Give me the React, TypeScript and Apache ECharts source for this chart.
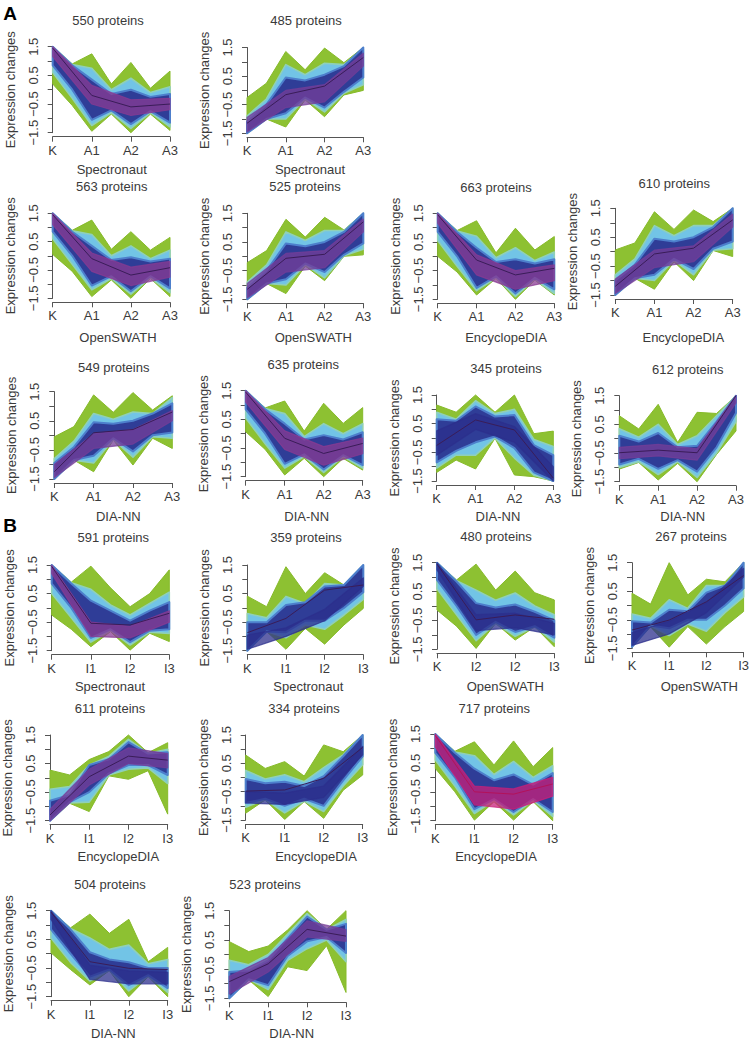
import React, { useEffect, useRef } from "react";
import * as echarts from "echarts";

// ---------- tick labels / texts ----------
const ticksA = ["K", "A1", "A2", "A3"];
const ticksI = ["K", "I1", "I2", "I3"];
const ticksI2 = ["K", "I2", "I2", "I3"];
const bandX = [0, 0.5, 1, 1.5, 2, 2.5, 3];
const pointX = [0, 1, 2, 3];

const counts = [550, 485, 563, 525, 663, 610, 549, 635, 345, 612, 591, 359, 480, 267, 611, 334, 717, 504, 523];
const software = [
  "Spectronaut", "Spectronaut", "OpenSWATH", "OpenSWATH", "EncyclopeDIA", "EncyclopeDIA",
  "DIA-NN", "DIA-NN", "DIA-NN", "DIA-NN",
  "Spectronaut", "Spectronaut", "OpenSWATH", "OpenSWATH",
  "EncyclopeDIA", "EncyclopeDIA", "EncyclopeDIA", "DIA-NN", "DIA-NN",
];
const tickSets = [
  ticksA, ticksA, ticksA, ticksA, ticksA, ticksA, ticksA, ticksA, ticksA, ticksA,
  ticksI, ticksI, ticksI2, ticksI, ticksI, ticksI, ticksI, ticksI, ticksI,
];

// ---------- envelope data (hi row, lo row) ----------
// A / Spectronaut
const p550Green = [[1.5, 0.9, 1.25, 0.2, 0.95, 0.05, 0.65], [0.2, -0.55, -1.45, -0.85, -1.5, -0.85, -1.42]];
const p550Cyan = [[1.5, 0.88, 0.75, 0.0, 0.4, -0.1, 0.1], [0.6, -0.3, -1.25, -0.8, -1.35, -0.8, -1.3]];
const p550Blue = [[1.5, 0.85, 0.35, -0.15, 0.0, -0.25, -0.15], [0.85, 0.0, -1.05, -0.72, -1.2, -0.75, -1.15]];
const p550Core = [[1.5, 0.15, -0.35, -0.3], [1.15, -0.5, -0.9, -0.7]];
const p550Mean = [1.45, -0.2, -0.6, -0.5];

const p485Green = [[-0.25, 0.25, 1.36, 0.72, 1.48, 0.97, 1.5], [-1.5, -1.0, -1.28, -0.33, -0.92, -0.16, 0.0]];
const p485Cyan = [[-0.9, -0.3, 0.9, 0.55, 0.95, 0.9, 1.45], [-1.5, -1.0, -1.0, -0.3, -0.75, -0.1, 0.2]];
const p485Blue = [[-1.1, -0.5, 0.45, 0.35, 0.55, 0.85, 1.5], [-1.5, -1.0, -0.8, -0.25, -0.6, -0.05, 0.45]];
const p485Core = [[-0.95, 0.0, 0.2, 1.3], [-1.45, -0.6, -0.4, 0.85]];
const p485Mean = [-1.15, -0.15, 0.15, 1.15];

// A / OpenSWATH
const p563Green = [[1.5, 0.9, 1.26, 0.23, 0.85, 0.2, 0.65], [0.05, -0.55, -1.44, -0.85, -1.5, -0.8, -1.44]];
const p563Cyan = [[1.5, 0.88, 0.75, 0.0, 0.35, -0.1, 0.2], [0.6, -0.3, -1.2, -0.8, -1.35, -0.78, -1.3]];
const p563Blue = [[1.5, 0.85, 0.35, -0.15, -0.05, -0.2, -0.1], [0.85, 0.0, -1.05, -0.72, -1.25, -0.72, -1.15]];
const p563Core = [[1.5, 0.1, -0.4, -0.2], [1.1, -0.55, -1.05, -0.75]];
const p563Mean = [1.45, -0.1, -0.68, -0.42];

const p525Green = [[-0.22, 0.2, 1.29, 0.67, 1.36, 0.92, 1.5], [-1.5, -0.95, -1.3, -0.34, -0.85, 0.0, 0.05]];
const p525Cyan = [[-0.9, -0.3, 0.85, 0.55, 0.9, 0.9, 1.5], [-1.5, -0.95, -1.0, -0.3, -0.75, 0.02, 0.25]];
const p525Blue = [[-1.1, -0.5, 0.45, 0.35, 0.5, 0.85, 1.5], [-1.5, -0.95, -0.8, -0.25, -0.55, 0.05, 0.45]];
const p525Core = [[-0.95, 0.1, 0.2, 1.3], [-1.45, -0.55, -0.4, 0.85]];
const p525Mean = [-1.15, -0.07, 0.07, 1.2];

// A / EncyclopeDIA
const p663Green = [[1.5, 0.9, 1.24, 0.12, 0.98, 0.22, 0.69], [0.0, -0.55, -1.35, -0.77, -1.5, -0.83, -1.35]];
const p663Cyan = [[1.5, 0.88, 0.7, -0.05, 0.3, -0.15, 0.15], [0.55, -0.35, -1.2, -0.75, -1.4, -0.8, -1.3]];
const p663Blue = [[1.5, 0.85, 0.3, -0.2, -0.1, -0.25, -0.1], [0.85, 0.0, -1.1, -0.7, -1.3, -0.75, -1.15]];
const p663Core = [[1.5, 0.05, -0.5, -0.3], [1.15, -0.65, -1.15, -0.85]];
const p663Mean = [1.45, -0.13, -0.65, -0.42];

const p610Green = [[0.06, 0.3, 1.38, 0.77, 1.44, 1.04, 1.5], [-1.5, -0.92, -1.3, -0.35, -1.0, 0.04, -0.17]];
const p610Cyan = [[-0.8, -0.25, 0.9, 0.55, 0.9, 0.9, 1.5], [-1.5, -0.92, -1.0, -0.3, -0.8, 0.05, 0.1]];
const p610Blue = [[-1.0, -0.45, 0.45, 0.35, 0.5, 0.85, 1.5], [-1.5, -0.92, -0.8, -0.25, -0.6, 0.1, 0.35]];
const p610Core = [[-0.95, 0.05, 0.2, 1.3], [-1.45, -0.55, -0.35, 0.85]];
const p610Mean = [-1.2, -0.08, 0.12, 1.1];

// A / DIA-NN
const p549Green = [[-0.05, 0.3, 1.39, 0.79, 1.47, 0.87, 1.36], [-1.5, -0.85, -1.25, -0.16, -1.02, -0.1, -0.45]];
const p549Cyan = [[-0.8, -0.2, 0.75, 0.55, 0.8, 0.75, 1.3], [-1.5, -0.85, -0.95, -0.15, -0.75, -0.05, -0.1]];
const p549Blue = [[-0.95, -0.4, 0.45, 0.4, 0.5, 0.75, 1.1], [-1.5, -0.85, -0.7, -0.1, -0.55, 0.0, 0.1]];
const p549Core = [[-1.0, 0.05, 0.2, 0.85], [-1.45, -0.45, -0.3, 0.5]];
const p549Mean = [-1.25, 0.09, 0.2, 0.8];

const p635Green = [[1.5, 0.9, 1.14, 0.09, 1.06, 0.36, 0.91], [0.07, -0.55, -1.44, -0.86, -1.5, -0.86, -1.27]];
const p635Cyan = [[1.5, 0.88, 0.7, -0.1, 0.35, 0.0, 0.35], [0.55, -0.35, -1.2, -0.8, -1.35, -0.8, -1.2]];
const p635Blue = [[1.5, 0.85, 0.35, -0.2, -0.05, -0.2, 0.05], [0.85, 0.0, -1.05, -0.72, -1.25, -0.75, -1.1]];
const p635Core = [[1.5, 0.1, -0.45, -0.15], [1.1, -0.55, -1.1, -0.7]];
const p635Mean = [1.45, -0.16, -0.69, -0.34];

const p345Green = [[1.15, 0.9, 1.5, 0.9, 1.5, 0.15, 0.24], [-1.2, -0.77, -1.08, -0.01, -1.29, -1.35, -1.5]];
const p345Cyan = [[0.9, 0.65, 1.3, 0.85, 1.0, -0.05, -0.3], [-1.05, -0.6, -0.6, 0.0, -0.7, -1.3, -1.5]];
const p345Blue = [[0.65, 0.6, 1.1, 0.75, 0.8, -0.25, -0.6], [-0.85, -0.45, -0.15, 0.05, -0.35, -1.2, -1.5]];
const p345Core = [[0.25, 0.85, 0.4, -1.0], [-0.6, 0.3, -0.15, -1.5]];
const p345Mean = [-0.26, 0.63, 0.28, -1.4];

const p612Green = [[0.8, 0.34, 1.2, -0.13, 0.92, 0.88, 1.5], [-1.06, -0.83, -1.44, -0.86, -1.5, -0.55, 0.27]];
const p612Cyan = [[0.35, 0.05, 0.5, -0.2, 0.1, 0.8, 1.5], [-1.0, -0.8, -1.25, -0.8, -1.35, -0.5, 0.6]];
const p612Blue = [[0.1, -0.1, 0.2, -0.3, -0.25, 0.6, 1.5], [-0.9, -0.7, -1.05, -0.75, -1.15, -0.3, 0.9]];
const p612Core = [[-0.3, -0.2, -0.35, 1.5], [-0.7, -0.6, -0.75, 1.25]];
const p612Mean = [-0.49, -0.4, -0.49, 1.5];

// B / Spectronaut
const p591Green = [[1.5, 0.9, 1.46, 0.7, 0.04, 0.5, 1.33], [-0.25, -0.75, -1.36, -0.83, -1.48, -0.89, -1.18]];
const p591Cyan = [[1.5, 0.88, 0.65, 0.1, -0.25, 0.15, 0.55], [0.5, -0.35, -1.2, -0.8, -1.3, -0.85, -0.9]];
const p591Blue = [[1.5, 0.85, 0.25, -0.1, -0.45, -0.1, 0.2], [0.85, 0.0, -1.05, -0.75, -1.2, -0.8, -0.75]];
const p591Core = [[1.5, -0.5, -0.65, -0.1], [1.2, -1.0, -1.05, -0.5]];
const p591Mean = [1.45, -0.54, -0.6, -0.19];

const p359Green = [[0.41, 0.04, 1.44, 0.5, 1.23, 0.8, 1.5], [-1.5, -0.83, -1.45, -0.72, -1.27, -0.6, -0.02]];
const p359Cyan = [[-0.2, -0.35, 0.4, 0.15, 0.85, 0.8, 1.5], [-1.5, -0.83, -1.05, -0.6, -0.75, -0.25, 0.3]];
const p359Blue = [[-0.5, -0.5, 0.1, 0.2, 0.75, 0.8, 1.5], [-1.5, -0.83, -0.85, -0.45, -0.45, 0.0, 0.55]];
const p359Core = [[-0.95, -0.7, -0.05, 1.05], [-1.45, -1.0, -0.45, 0.75]];
const p359Mean = [-0.87, -0.37, 0.62, 0.8];

// B / OpenSWATH
const p480Green = [[1.5, 0.9, 1.45, 0.55, 1.21, 0.46, 0.21], [-0.14, -0.7, -1.47, -0.6, -1.18, -0.72, -1.41]];
const p480Cyan = [[1.5, 0.88, 0.55, 0.2, 0.45, 0.0, -0.3], [0.6, -0.3, -1.2, -0.6, -1.05, -0.72, -1.25]];
const p480Blue = [[1.5, 0.85, 0.1, -0.05, 0.05, -0.2, -0.5], [0.9, 0.0, -1.0, -0.55, -0.9, -0.7, -1.1]];
const p480Core = [[1.5, -0.3, -0.25, -0.6], [1.25, -0.85, -0.75, -1.0]];
const p480Mean = [1.45, -0.48, -0.31, -0.46];

const p267Green = [[0.43, 0.05, 1.5, 0.37, 0.92, 0.83, 1.5], [-1.44, -0.75, -1.46, -0.74, -1.35, -0.74, -0.21]];
const p267Cyan = [[-0.3, -0.45, 0.2, -0.1, 0.7, 0.7, 1.5], [-1.45, -0.72, -1.05, -0.65, -0.9, -0.25, 0.3]];
const p267Blue = [[-0.55, -0.6, -0.15, -0.2, 0.45, 0.7, 1.5], [-1.45, -0.7, -0.8, -0.5, -0.5, 0.0, 0.6]];
const p267Core = [[-0.95, -0.55, 0.1, 1.3], [-1.4, -1.0, -0.25, 1.0]];
const p267Mean = [-0.86, -0.51, 0.13, 1.05];

// B / EncyclopeDIA
const p611Green = [[0.27, 0.1, 0.64, 0.92, 1.5, 0.88, 1.23], [-1.5, -0.89, -1.18, 0.07, -0.05, 0.25, -1.27]];
const p611Cyan = [[-0.4, -0.3, 0.45, 0.75, 1.35, 0.85, 1.0], [-1.5, -0.88, -0.85, 0.1, 0.3, 0.35, -0.2]];
const p611Blue = [[-0.8, -0.6, 0.45, 0.65, 1.25, 0.85, 0.9], [-1.5, -0.85, -0.5, 0.15, 0.45, 0.45, 0.1]];
const p611Core = [[-1.1, 0.3, 1.05, 0.85], [-1.5, -0.25, 0.5, 0.35]];
const p611Mean = [-1.3, 0.04, 0.76, 0.62];

const p334Green = [[0.79, 0.32, 0.56, 0.05, 1.15, 0.91, 1.5], [-1.26, -0.79, -1.48, -0.85, -1.44, -0.45, 0.09]];
const p334Cyan = [[0.25, -0.05, 0.1, -0.15, 0.35, 0.8, 1.5], [-1.05, -0.78, -1.25, -0.83, -1.2, -0.3, 0.45]];
const p334Blue = [[-0.05, -0.2, -0.15, -0.3, 0.05, 0.75, 1.5], [-0.9, -0.75, -1.0, -0.75, -1.0, -0.1, 0.75]];
const p334Core = [[-0.5, -0.55, -0.3, 1.1], [-0.9, -0.95, -0.7, 0.8]];
const p334Mean = [-0.48, -0.44, -0.03, 1.06];

const p717Green = [[1.5, 0.9, 1.23, 0.43, 1.26, 0.37, 1.03], [0.31, -0.5, -1.48, -0.84, -1.48, -0.84, -1.5]];
const p717Cyan = [[1.5, 0.88, 0.75, 0.1, 0.55, 0.0, 0.4], [0.6, -0.3, -1.25, -0.8, -1.3, -0.8, -1.35]];
const p717Blue = [[1.5, 0.85, 0.3, -0.1, 0.1, -0.25, 0.15], [0.85, 0.0, -1.1, -0.75, -1.2, -0.75, -1.2]];
const p717Core = [[1.5, -0.3, -0.4, 0.0], [1.05, -0.95, -1.1, -0.65]];
const p717Mean = [1.45, -0.5, -0.58, -0.23];

// B / DIA-NN
const p504Green = [[1.5, 0.9, 1.38, 0.71, 1.2, -0.28, 0.22], [0.03, -0.55, -1.09, -0.59, -1.5, -0.8, -1.5]];
const p504Cyan = [[1.5, 0.88, 0.55, 0.15, 0.3, -0.35, -0.2], [0.55, -0.3, -0.95, -0.58, -1.3, -0.78, -1.35]];
const p504Blue = [[1.5, 0.85, 0.05, -0.2, -0.3, -0.5, -0.5], [0.85, 0.0, -0.8, -0.55, -1.1, -0.75, -1.2]];
const p504Core = [[1.5, -0.4, -0.6, -0.65], [1.2, -0.9, -1.05, -1.05]];
const p504Mean = [1.45, -0.28, -0.51, -0.55];

const p523Green = [[0.44, 0.1, 0.29, 0.84, 1.5, 0.86, 1.5], [-1.5, -0.87, -1.44, -0.42, -0.55, 0.3, -1.3]];
const p523Cyan = [[-0.2, -0.35, 0.0, 0.7, 1.4, 0.85, 1.2], [-1.5, -0.85, -1.2, -0.2, 0.2, 0.5, -0.25]];
const p523Blue = [[-0.6, -0.55, -0.2, 0.55, 1.3, 0.85, 1.05], [-1.5, -0.85, -1.05, -0.05, 0.45, 0.6, 0.05]];
const p523Core = [[-0.75, -0.1, 1.15, 0.85], [-1.35, -0.6, 0.6, 0.45]];
const p523Mean = [-0.93, -0.32, 0.86, 0.63];

const panelData = [
  [p550Green, p550Cyan, p550Blue, p550Core, p550Mean],
  [p485Green, p485Cyan, p485Blue, p485Core, p485Mean],
  [p563Green, p563Cyan, p563Blue, p563Core, p563Mean],
  [p525Green, p525Cyan, p525Blue, p525Core, p525Mean],
  [p663Green, p663Cyan, p663Blue, p663Core, p663Mean],
  [p610Green, p610Cyan, p610Blue, p610Core, p610Mean],
  [p549Green, p549Cyan, p549Blue, p549Core, p549Mean],
  [p635Green, p635Cyan, p635Blue, p635Core, p635Mean],
  [p345Green, p345Cyan, p345Blue, p345Core, p345Mean],
  [p612Green, p612Cyan, p612Blue, p612Core, p612Mean],
  [p591Green, p591Cyan, p591Blue, p591Core, p591Mean],
  [p359Green, p359Cyan, p359Blue, p359Core, p359Mean],
  [p480Green, p480Cyan, p480Blue, p480Core, p480Mean],
  [p267Green, p267Cyan, p267Blue, p267Core, p267Mean],
  [p611Green, p611Cyan, p611Blue, p611Core, p611Mean],
  [p334Green, p334Cyan, p334Blue, p334Core, p334Mean],
  [p717Green, p717Cyan, p717Blue, p717Core, p717Mean],
  [p504Green, p504Cyan, p504Blue, p504Core, p504Mean],
  [p523Green, p523Cyan, p523Blue, p523Core, p523Mean],
];

// ---------- layout (pixels): left, right, top, bottom, titleX, titleY, xnameX, xnameY ----------
const layout = [
  [52.7, 170, 46.7, 132.7, 108, 20.7, 111.7, 169.3],
  [247, 363.3, 47.5, 133.3, 306, 20.7, 310, 169.3],
  [52.7, 170, 213.3, 298.3, 111.7, 186.7, 118, 337.7],
  [247.3, 363.3, 213.3, 299.3, 305, 186.7, 313.3, 337.7],
  [437.7, 554.3, 213.3, 299.3, 496, 187.3, 506, 337.7],
  [615.3, 732.7, 208.3, 295, 674.3, 183.3, 683.3, 337.7],
  [54.3, 172.3, 391.7, 479, 113.7, 367.7, 118.3, 516],
  [245.7, 362.7, 390.7, 476.7, 303.3, 364.3, 306.7, 516],
  [436.7, 553.3, 395, 481, 506, 368.3, 498, 516],
  [619.3, 736, 395.7, 481.7, 687.7, 369.3, 682.7, 516],
  [51.7, 169.3, 565, 650.7, 113.3, 537.7, 110, 686],
  [247.3, 363.3, 565, 650.7, 306, 537.7, 308.3, 686],
  [437, 554.3, 562.7, 649.3, 496, 536.7, 505.3, 686],
  [632, 749.3, 562.7, 648.3, 691, 536.7, 699.3, 686],
  [50, 167.7, 735, 820.7, 110, 708.3, 118.3, 856.7],
  [245.7, 362.7, 735, 820, 304, 708.3, 316, 856.7],
  [435.3, 552.7, 734, 820.7, 494.3, 708.3, 496, 856.7],
  [51, 167.7, 910.7, 996.7, 110, 884, 113.3, 1033.3],
  [229.3, 346, 910.7, 998.3, 265, 884, 291.7, 1033.3],
];

const PURPLE = "#8a3b93";
const VIOLET = "#763d98";
const NAVY = "#2c2f8c";
const MAGENTA = "#c8207a";
const coreColors = [
  PURPLE, VIOLET, PURPLE, VIOLET, PURPLE, VIOLET, VIOLET, PURPLE, NAVY, VIOLET,
  PURPLE, NAVY, NAVY, NAVY, VIOLET, NAVY, MAGENTA, NAVY, VIOLET,
];

const FONT = "'Liberation Sans', Arial, Helvetica, sans-serif";
const TEXT = "#3a3a3a";
const AXIS = "#555";

function bandSeries(i: number, band: number[][], fill: string, stroke: string, lw: number, opacity = 1) {
  const hi = band[0];
  const lo = band[1];
  const xs = hi.length === 7 ? bandX : pointX;
  return {
    type: "custom",
    xAxisIndex: i,
    yAxisIndex: i,
    silent: true,
    clip: false,
    data: [[0, 0]],
    renderItem: (_p: any, api: any) => {
      const pts: number[][] = hi.map((v, k) => api.coord([xs[k], v]));
      for (let k = lo.length - 1; k >= 0; k--) pts.push(api.coord([xs[k], lo[k]]));
      return {
        type: "polygon",
        shape: { points: pts },
        style: { fill, stroke, lineWidth: lw, opacity, lineJoin: "round" },
      };
    },
  };
}

function textEl(x: number, y: number, text: string, font: string, fill: string) {
  return {
    type: "text",
    x,
    y,
    silent: true,
    style: {
      text,
      font,
      fill,
      align: "center",
      verticalAlign: "middle",
      textAlign: "center",
      textVerticalAlign: "middle",
    },
  };
}

function buildOption() {
  const grid: any[] = [];
  const xAxis: any[] = [];
  const yAxis: any[] = [];
  const series: any[] = [];
  const graphic: any[] = [];

  layout.forEach((l, i) => {
    grid.push({ left: l[0], top: l[2], width: l[1] - l[0], height: l[3] - l[2], containLabel: false });
    const labels = tickSets[i];
    xAxis.push({
      gridIndex: i,
      type: "value",
      min: 0,
      max: 3,
      interval: 1,
      offset: 4,
      axisLine: { show: true, onZero: false, lineStyle: { color: AXIS, width: 1 } },
      axisTick: { show: true, length: 5, lineStyle: { color: AXIS, width: 1 } },
      axisLabel: {
        formatter: (v: number) => labels[Math.round(v)] ?? "",
        fontSize: 13,
        fontWeight: "normal",
        fontFamily: FONT,
        color: TEXT,
        margin: 7,
        showMinLabel: true,
        showMaxLabel: true,
      },
      splitLine: { show: false },
    });
    yAxis.push({
      gridIndex: i,
      type: "value",
      min: -1.5,
      max: 1.5,
      interval: 0.5,
      axisLine: { show: true, onZero: false, lineStyle: { color: AXIS, width: 1 } },
      axisTick: { show: true, length: 5, lineStyle: { color: AXIS, width: 1 } },
      axisLabel: {
        rotate: 90,
        fontSize: 13,
        fontWeight: "normal",
        fontFamily: FONT,
        color: TEXT,
        margin: 13,
        showMinLabel: true,
        showMaxLabel: true,
        formatter: (v: number) => {
          const k = Math.round(v * 2);
          if (Math.abs(k) % 2 !== 1) return "";
          return (v < 0 ? "\u2212" : "") + Math.abs(v).toFixed(1);
        },
      },
      splitLine: { show: false },
      name: "Expression changes",
      nameLocation: "middle",
      nameRotate: 90,
      nameGap: 36,
      nameTextStyle: { fontSize: 13, fontWeight: "normal", fontFamily: FONT, color: TEXT },
    });

    const [green, cyan, blue, core, mean] = panelData[i] as any;
    series.push(bandSeries(i, green, "#8dc132", "#87bb2a", 1));
    series.push(bandSeries(i, cyan, "#72c4e6", "#8fd0b8", 1.6));
    series.push(bandSeries(i, blue, "#2f3d97", "#4d7fcc", 2));
    series.push(bandSeries(i, core, coreColors[i], coreColors[i], 1.2, 0.75));
    series.push({
      type: "line",
      xAxisIndex: i,
      yAxisIndex: i,
      silent: true,
      showSymbol: false,
      symbol: "none",
      data: mean.map((v: number, k: number) => [pointX[k], v]),
      lineStyle: { color: coreColors[i] === MAGENTA ? "#b3125a" : "#3a1d58", width: 1 },
    });

    graphic.push(textEl(l[4], l[5], `${counts[i]} proteins`, `13px ${FONT}`, TEXT));
    graphic.push(textEl(l[6], l[7], software[i], `13px ${FONT}`, TEXT));
  });

  graphic.push(textEl(10, 13, "A", `bold 19px ${FONT}`, "#000"));
  graphic.push(textEl(10, 525, "B", `bold 19px ${FONT}`, "#000"));

  return {
    animation: false,
    backgroundColor: "#ffffff",
    grid,
    xAxis,
    yAxis,
    series,
    graphic,
  };
}

export default function App() {
  const ref = useRef<HTMLDivElement>(null);
  useEffect(() => {
    if (!ref.current) return;
    const chart = echarts.init(ref.current, undefined, { renderer: "svg" });
    chart.setOption(buildOption() as any);
    return () => chart.dispose();
  }, []);
  return (
    <div
      ref={ref}
      style={{ position: "fixed", left: 0, top: 0, width: 752, height: 1042, background: "#fff" }}
    />
  );
}
